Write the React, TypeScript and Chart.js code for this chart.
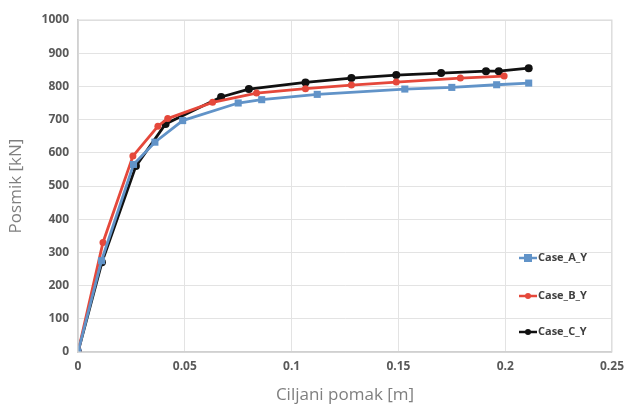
import React, { useEffect, useRef } from "react";
import { Chart, registerables } from "chart.js";

Chart.register(...registerables);

const seriesNames = ["Case_A_Y", "Case_B_Y", "Case_C_Y"];

const caseAX = [0, 0.011, 0.026, 0.036, 0.049, 0.075, 0.086, 0.112, 0.153, 0.175, 0.196, 0.211];
const caseAY = [0, 275, 565, 632, 697, 750, 760, 776, 792, 797, 805, 810];

const caseBX = [0, 0.0117, 0.0257, 0.0374, 0.042, 0.063, 0.0836, 0.1065, 0.128, 0.149, 0.179, 0.1995];
const caseBY = [0, 330, 590, 680, 703, 752, 780, 793, 804, 813, 825, 831];

const caseCX = [0, 0.0112, 0.0271, 0.041, 0.067, 0.080, 0.1065, 0.128, 0.149, 0.170, 0.191, 0.197, 0.211];
const caseCY = [0, 270, 560, 687, 768, 792, 812, 825, 834, 840, 846, 846, 855];

const xTicks = [0, 0.05, 0.1, 0.15, 0.2, 0.25];
const xTickLabels = ["0", "0.05", "0.1", "0.15", "0.2", "0.25"];
const yTicks = [0, 100, 200, 300, 400, 500, 600, 700, 800, 900, 1000];
const yTickLabels = ["0", "100", "200", "300", "400", "500", "600", "700", "800", "900", "1000"];

const xTitle = "Ciljani pomak [m]";
const yTitle = "Posmik [kN]";

const colors = ["#6193c8", "#e5483b", "#111111"];
const markers = ["rect", "circle", "circle"];
const markerRadius = [5, 3.5, 4];

const toPoints = (xs: number[], ys: number[]) => xs.map((x, i) => ({ x, y: ys[i] }));

const legendPlugin = {
  id: "customLegend",
  afterDraw(chart: any) {
    const ctx = chart.ctx;
    const area = chart.chartArea;
    const ys = [258, 296, 332];
    const x0 = area.right - 93;
    ctx.save();
    ctx.font = "bold 11px 'Open Sans', sans-serif";
    ctx.textBaseline = "middle";
    ctx.textAlign = "left";
    chart.data.datasets.forEach((ds: any, i: number) => {
      const y = ys[i];
      ctx.strokeStyle = ds.borderColor;
      ctx.lineWidth = 2.5;
      ctx.beginPath();
      ctx.moveTo(x0, y);
      ctx.lineTo(x0 + 18, y);
      ctx.stroke();
      ctx.fillStyle = ds.backgroundColor;
      if (ds.pointStyle === "rect") {
        const r = 4;
        ctx.fillRect(x0 + 9 - r, y - r, 2 * r, 2 * r);
      } else {
        ctx.beginPath();
        ctx.arc(x0 + 9, y, 3, 0, Math.PI * 2);
        ctx.fill();
      }
      ctx.fillStyle = "#404040";
      ctx.fillText(ds.label, x0 + 19, y);
    });
    ctx.restore();
  },
};

export default function App() {
  const ref = useRef<HTMLCanvasElement | null>(null);
  useEffect(() => {
    if (!ref.current) return;
    const xs = [caseAX, caseBX, caseCX];
    const ysArr = [caseAY, caseBY, caseCY];
    const chart = new Chart(ref.current, {
      type: "scatter",
      data: {
        datasets: seriesNames.map((name, i) => ({
          label: name,
          data: toPoints(xs[i], ysArr[i]),
          showLine: true,
          borderColor: colors[i],
          backgroundColor: colors[i],
          borderWidth: 2.8,
          pointStyle: markers[i] as any,
          pointRadius: markerRadius[i],
          pointBorderWidth: 0,
          tension: 0,
        })),
      },
      options: {
        animation: false,
        responsive: false,
        maintainAspectRatio: false,
        layout: { padding: { top: 20, right: 18, left: 0, bottom: 0 } },
        plugins: { legend: { display: false }, tooltip: { enabled: false } },
        scales: {
          x: {
            type: "linear",
            min: 0,
            max: 0.25,
            afterBuildTicks: (s: any) => {
              s.ticks = xTicks.map((v) => ({ value: v }));
            },
            afterFit: (s: any) => {
              s.height = 61;
            },
            ticks: {
              callback: (v: any) => xTickLabels[xTicks.indexOf(Number(v))] ?? "",
              color: "#595959",
              font: { family: "'Open Sans', sans-serif", size: 12, weight: "bold" },
              padding: 7,
              maxRotation: 0,
            },
            grid: { color: "#e3e3e3", lineWidth: 1, drawTicks: false },
            border: { color: "#c8c8c8", width: 1.5 },
            title: {
              display: true,
              text: xTitle,
              color: "#7f7f7f",
              font: { family: "'Open Sans', sans-serif", size: 17 },
              padding: { top: 4, bottom: 8 },
            },
          },
          y: {
            type: "linear",
            min: 0,
            max: 1000,
            afterBuildTicks: (s: any) => {
              s.ticks = yTicks.map((v) => ({ value: v }));
            },
            afterFit: (s: any) => {
              s.width = 78;
            },
            ticks: {
              callback: (v: any) => yTickLabels[yTicks.indexOf(Number(v))] ?? "",
              color: "#595959",
              font: { family: "'Open Sans', sans-serif", size: 12, weight: "bold" },
              padding: 9,
            },
            grid: { color: "#e3e3e3", lineWidth: 1, drawTicks: false },
            border: { color: "#c8c8c8", width: 1.5 },
            title: {
              display: true,
              text: yTitle,
              color: "#7f7f7f",
              font: { family: "'Open Sans', sans-serif", size: 17 },
              padding: { top: 6, bottom: 0 },
            },
          },
        },
      },
      plugins: [
        legendPlugin,
        {
          id: "frame",
          afterDraw(chart: any) {
            const { ctx, chartArea: a } = chart;
            ctx.save();
            ctx.strokeStyle = "#d9d9d9";
            ctx.lineWidth = 1;
            ctx.strokeRect(a.left, a.top, a.right - a.left, a.bottom - a.top);
            ctx.restore();
          },
        },
      ],
    });
    return () => chart.destroy();
  }, []);
  return (
    <div style={{ position: "fixed", left: 0, top: 0, width: 631, height: 413, background: "#fff" }}>
      <canvas ref={ref} width={631} height={413} style={{ width: 631, height: 413 }} />
    </div>
  );
}
